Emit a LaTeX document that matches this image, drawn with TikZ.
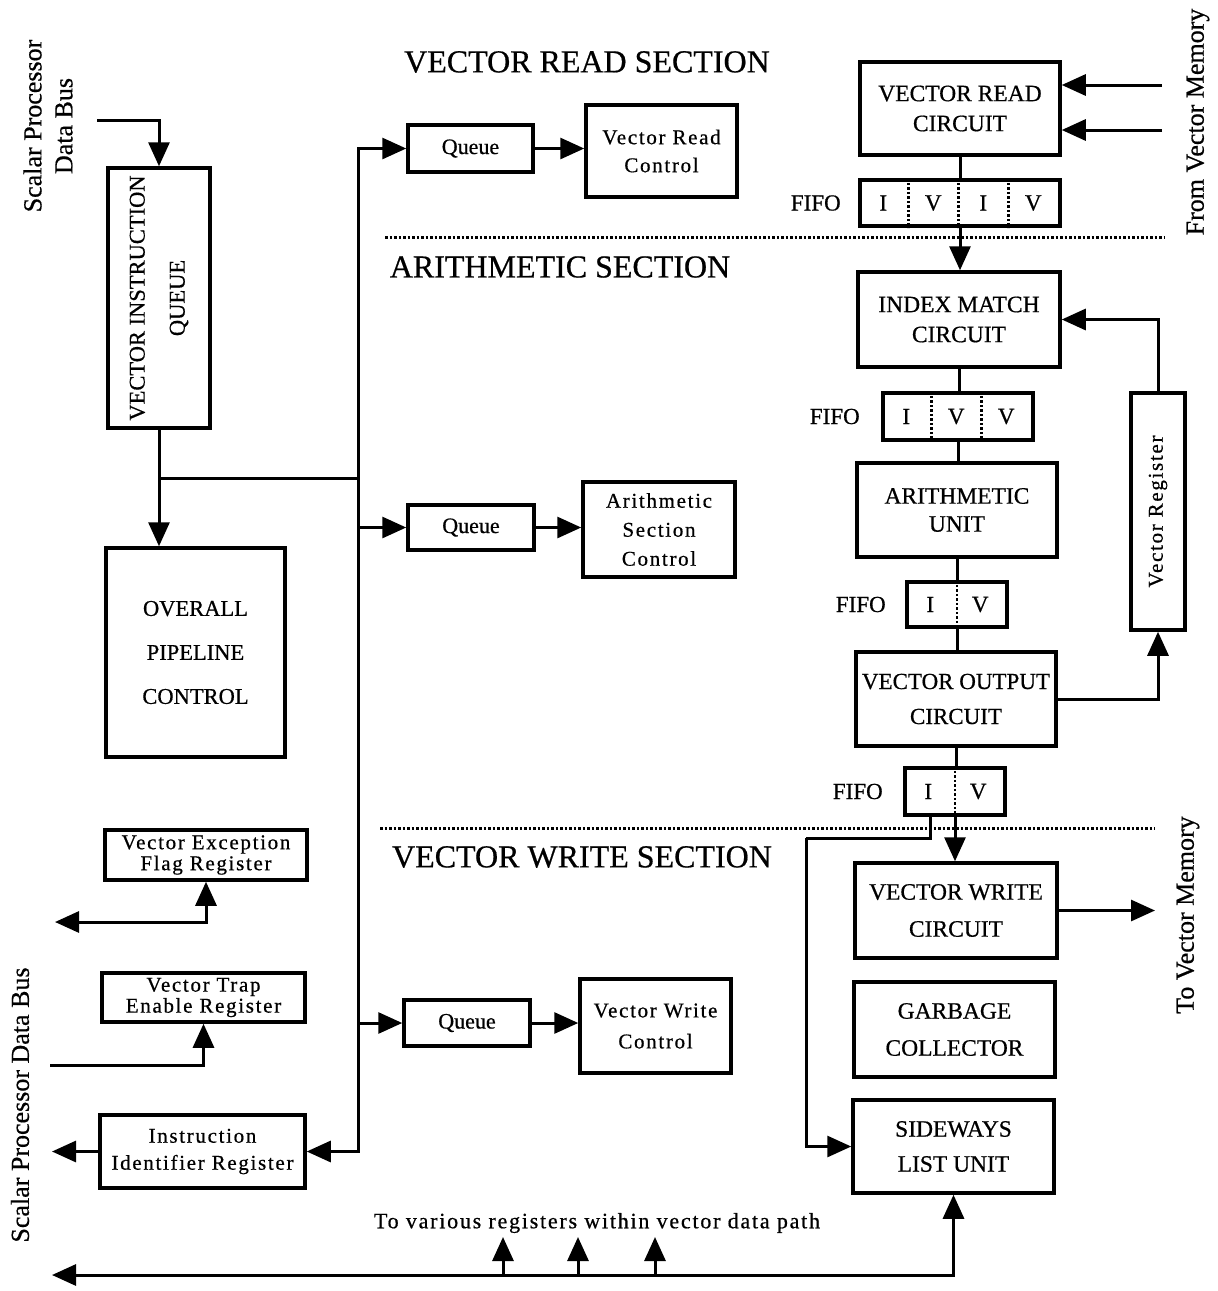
\documentclass[tikz,border=0pt]{standalone}
\usepackage{fontspec}
\setmainfont{Liberation Serif}[FakeBold=0.6]
\newfontfamily\spaced{Liberation Serif}[LetterSpace=8,FakeBold=0.6]
\usetikzlibrary{arrows.meta}

\begin{document}
\begin{tikzpicture}[x=1pt,y=-1pt,
  box/.style={draw, line width=3.5pt, inner sep=0pt, align=center, font=\fontsize{23.5}{30}\selectfont},
  sbox/.style={draw, line width=3.5pt, inner sep=0pt, align=center, font=\spaced\fontsize{21}{28}\selectfont},
  wire/.style={line width=3pt},
  arr/.style={wire, -{Triangle[length=24pt,width=21pt]}},
  biarr/.style={wire, {Triangle[length=24pt,width=21pt]}-{Triangle[length=24pt,width=21pt]}},
  sep/.style={line width=3pt, dash pattern=on 2.5pt off 2pt},
  cellsep/.style={line width=2.5pt, dash pattern=on 2.5pt off 2pt},
  cell/.style={font=\fontsize{23}{26}\selectfont},
  title/.style={font=\fontsize{32}{36}\selectfont},
  side/.style={rotate=90, align=center, font=\fontsize{26}{31}\selectfont},
  lbl/.style={font=\fontsize{23}{26}\selectfont, anchor=east},
]
\useasboundingbox (0,0) rectangle (1218,1291);

% ---------- section separators and titles ----------
\draw[sep] (385,237) -- (1165,237);
\draw[sep] (380,828) -- (1155,828);
\node[title] (tread)  at (587,62)  {VECTOR READ SECTION};
\node[title] (tarith) at (560,267) {ARITHMETIC SECTION};
\node[title] (twrite) at (582,857) {VECTOR WRITE SECTION};

% ---------- control side ----------
\node[box, minimum width=102pt, minimum height=260pt] (viq) at (159,298) {};
\node[rotate=90, align=center, font=\fontsize{22.5}{40}\selectfont] (viqtext) at (viq) {VECTOR INSTRUCTION\\QUEUE};
\node[box, minimum width=179pt, minimum height=209pt, font=\fontsize{22.5}{30}\selectfont] (opc) at (195.5,652.5)
  {OVERALL\\[14pt]PIPELINE\\[14pt]CONTROL};

\node[sbox, minimum width=202pt, minimum height=50pt, font=\spaced\fontsize{21}{21}\selectfont] (vefr) at (206,855)
  {Vector Exception\\Flag Register};
\node[sbox, minimum width=203pt, minimum height=49pt, font=\spaced\fontsize{21}{21}\selectfont] (vter) at (203.5,997.5)
  {Vector Trap\\Enable Register};
\node[sbox, minimum width=205pt, minimum height=73pt, font=\spaced\fontsize{21}{27}\selectfont] (iir) at (202.5,1151.5)
  {Instruction\\Identifier Register};

\node[box, minimum width=125pt, minimum height=47pt, font=\fontsize{22}{26}\selectfont] (q1) at (470.5,148.5) {Queue};
\node[sbox, minimum width=151pt, minimum height=92pt] (vrc) at (661.5,151) {Vector Read\\Control};
\node[box, minimum width=126pt, minimum height=45pt, font=\fontsize{22}{26}\selectfont] (q2) at (471,527.5) {Queue};
\node[sbox, minimum width=152pt, minimum height=95pt, font=\spaced\fontsize{21}{29}\selectfont] (asc) at (659,529.5)
  {Arithmetic\\Section\\Control};
\node[box, minimum width=126pt, minimum height=46pt, font=\fontsize{22}{26}\selectfont] (q3) at (467,1023) {Queue};
\node[sbox, minimum width=151pt, minimum height=94pt, font=\spaced\fontsize{21}{31}\selectfont] (vwc) at (655.5,1026)
  {Vector Write\\Control};

% ---------- data path ----------
\node[box, minimum width=200pt, minimum height=93pt] (vrcirc) at (960,108.5) {VECTOR READ\\CIRCUIT};
\node[box, minimum width=200pt, minimum height=46pt] (fifo1) at (960,203) {};
\node[box, minimum width=202pt, minimum height=95pt] (imc) at (959,319.5) {INDEX MATCH\\CIRCUIT};
\node[box, minimum width=150pt, minimum height=47pt] (fifo2) at (958,416.5) {};
\node[box, minimum width=200pt, minimum height=94pt, font=\fontsize{23.5}{28}\selectfont] (au) at (957,510) {ARITHMETIC\\UNIT};
\node[box, minimum width=100pt, minimum height=45pt] (fifo3) at (957,604.5) {};
\node[box, minimum width=200pt, minimum height=94pt, font=\fontsize{23}{35}\selectfont] (voc) at (956,699) {VECTOR OUTPUT\\CIRCUIT};
\node[sbox, minimum width=54pt, minimum height=237pt] (vreg) at (1158,511.5) {};
\node[rotate=90, font=\spaced\fontsize{21}{26}\selectfont] (vregtext) at (vreg) {Vector Register};
\node[box, minimum width=100pt, minimum height=47pt] (fifo4) at (955,791.5) {};
\node[box, minimum width=202pt, minimum height=95pt, font=\fontsize{23.5}{37}\selectfont] (vwcirc) at (956,910.5) {VECTOR WRITE\\CIRCUIT};
\node[box, minimum width=201pt, minimum height=95pt, font=\fontsize{23.5}{37}\selectfont] (gc) at (954.5,1029.5) {GARBAGE\\COLLECTOR};
\node[box, minimum width=201pt, minimum height=93pt, font=\fontsize{23.5}{35}\selectfont] (slu) at (953.5,1146.5) {SIDEWAYS\\LIST UNIT};

% FIFO cells
\foreach \k in {50,100,150}
  \draw[cellsep] ([xshift=\k pt]fifo1.north west) -- ([xshift=\k pt]fifo1.south west);
\foreach \k/\t in {25/I,75/V,125/I,175/V}
  \node[cell] at ([xshift=\k pt]fifo1.west) {\t};
\foreach \k in {50,100}
  \draw[cellsep] ([xshift=\k pt]fifo2.north west) -- ([xshift=\k pt]fifo2.south west);
\foreach \k/\t in {25/I,75/V,125/V}
  \node[cell] at ([xshift=\k pt]fifo2.west) {\t};
\draw[cellsep] (fifo3.north) -- (fifo3.south);
\node[cell] (f3i) at ([xshift=25pt]fifo3.west) {I};
\node[cell] (f3v) at ([xshift=75pt]fifo3.west) {V};
\draw[cellsep] (fifo4.north) -- (fifo4.south);
\node[cell] (f4i) at ([xshift=25pt]fifo4.west) {I};
\node[cell] (f4v) at ([xshift=75pt]fifo4.west) {V};

\node[lbl] (l1) at ([xshift=-14pt]fifo1.west) {FIFO};
\node[lbl] (l2) at ([xshift=-18pt]fifo2.west) {FIFO};
\node[lbl] (l3) at ([xshift=-16pt]fifo3.west) {FIFO};
\node[lbl] (l4) at ([xshift=-17pt]fifo4.west) {FIFO};

% ---------- outside labels ----------
\node[side] (sbtop) at (48,126) {Scalar Processor\\Data Bus};
\node[side] (sbbot) at (20,1105) {Scalar Processor Data Bus};
\node[side] (fvm) at (1198,122) {From Vector Memory};
\node[side] (tvm) at (1188,915) {To Vector Memory};
\node[font=\spaced\fontsize{22}{26}\selectfont] (various) at (597,1223) {To various registers within vector data path};

% ---------- free ends ----------
\coordinate (sbin) at (97,120);
\coordinate (bj) at (358,478);
\coordinate (veout) at (55,922);
\coordinate (vtin) at (50,1065);
\coordinate (iirout) at (52,1151.5);
\coordinate (busl) at (52,1275);
\coordinate (m1) at (1162,85);
\coordinate (m2) at (1162,130);
\coordinate (wout) at (1155,910.5);
\coordinate (bend) at (806,838);

% ---------- control connectors ----------
\draw[arr] (sbin) -| (viq.north);
\draw[arr] (viq.south) -- (viq.south |- opc.north);
\draw[wire] (viq.south |- bj) -- (bj);
\draw[arr] (bj) |- (q1.west);
\draw[arr] (bj) |- (iir.east);
\draw[arr] (bj |- q2.west) -- (q2.west);
\draw[arr] (bj |- q3.west) -- (q3.west);
\draw[arr] (q1.east) -- (q1.east -| vrc.west);
\draw[arr] (q2.east) -- (q2.east -| asc.west);
\draw[arr] (q3.east) -- (q3.east -| vwc.west);
\draw[biarr] (veout) -| (vefr.south);
\draw[arr] (vtin) -| (vter.south);
\draw[arr] (iir.west) -- (iirout);
\draw[biarr] (busl) -| (slu.south);
\foreach \x in {503,578,655}
  \draw[arr] (\x,1275) -- (\x,1237);

% ---------- data path connectors ----------
\draw[arr] (m1) -- (m1 -| vrcirc.east);
\draw[arr] (m2) -- (m2 -| vrcirc.east);
\draw[wire] (vrcirc.south) -- (fifo1.north);
\draw[arr] (fifo1.south) -- (fifo1.south |- imc.north);
\draw[wire] (imc.south) -- (imc.south |- fifo2.north);
\draw[wire] (fifo2.south) -- (fifo2.south |- au.north);
\draw[wire] (au.south) -- (au.south |- fifo3.north);
\draw[wire] (fifo3.south) -- (fifo3.south |- voc.north);
\draw[wire] (voc.south) -- (voc.south |- fifo4.north);
\draw[arr] (fifo4.south) -- (fifo4.south |- vwcirc.north);
\draw[arr] (voc.east) -| (vreg.south);
\draw[arr] (vreg.north) |- (imc.east);
\draw[wire] ([xshift=-25pt]fifo4.south) |- (bend);
\draw[arr] (bend) |- (slu.west);
\draw[arr] (vwcirc.east) -- (wout);

\end{tikzpicture}
\end{document}
